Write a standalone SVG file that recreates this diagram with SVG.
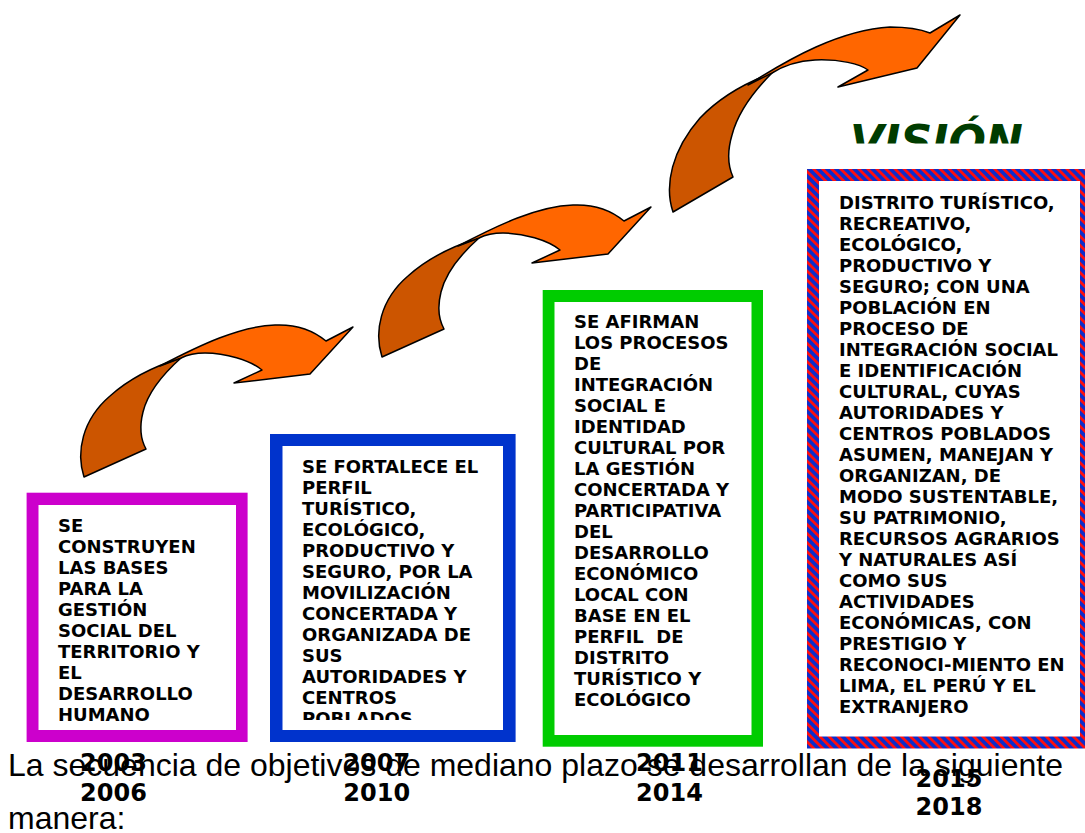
<svg xmlns="http://www.w3.org/2000/svg" width="1085" height="833" viewBox="0 0 1085 833">
<style>
.bt{font-family:"DejaVu Sans","Verdana",sans-serif;font-weight:bold;font-size:18px;fill:#000;white-space:pre}
.yr{font-family:"DejaVu Sans","Verdana",sans-serif;font-weight:bold;font-size:24px;fill:#000;text-anchor:middle}
.body{font-family:"Liberation Sans",Arial,sans-serif;font-size:32px;fill:#000}
.lt{fill:#FF6600;stroke:#000;stroke-width:1.5;stroke-linejoin:round}
.dk{fill:#CC5500;stroke:#000;stroke-width:1.5;stroke-linejoin:round}
</style>
<defs>
<pattern id="stripe" patternUnits="userSpaceOnUse" width="6.4" height="10" patternTransform="rotate(-45)">
<rect width="6.4" height="10" fill="#0a2ecc"/>
<rect width="2.8" height="10" fill="#ff0d0d"/>
</pattern>
<clipPath id="clip2"><rect x="282" y="446" width="221" height="274"/></clipPath>
<clipPath id="clipV"><rect x="830" y="100" width="255" height="43.5"/></clipPath>
<g id="arrowShape">
<path class="dk" d="M84,477 C76,452 82,420 110,396 C130,378 155,366 181,358 C163,374 148,392 143,412 C139,428 141,440 146,449 Z"/>
<path class="lt" d="M160,366 C200,345 240,326 275,325 C297,324 314,331 326,341 L353,327 L310,374 L234,383 L262,370 C250,360 225,353 205,353 C195,353 187,355 181,358 Z"/>
</g>
</defs>
<rect width="1085" height="833" fill="#fff"/>

<g id="connectors">
<use href="#arrowShape"/>
<use href="#arrowShape" transform="translate(298,-120)"/>
<g id="arrow3">
<path class="dk" d="M673,212 C664,185 672,150 700,118 C720,97 745,83 772,73 C755,90 738,112 732,135 C727,152 728,166 733,177 Z"/>
<path class="lt" d="M748,85 C790,58 840,30 890,27 C905,27 920,29 930,33 L960,15 L917,68 L838,87 L868,70 C860,64 840,59 815,60 C797,61 783,66 772,73 Z"/>
</g>
</g>

<g id="vision" clip-path="url(#clipV)">
<text x="850" y="157" font-family="DejaVu Sans, Verdana, sans-serif" font-weight="bold" font-style="italic" font-size="44" fill="#003C00">VISIÓN</text>
</g>

<g id="box1">
<rect x="26.6" y="492.7" width="221" height="249.3" fill="#CC00CC"/>
<rect x="38.5" y="505" width="197.5" height="225" fill="#fff"/>
<text class="bt" x="58" y="532"><tspan x="58">SE</tspan><tspan x="58" dy="21">CONSTRUYEN</tspan><tspan x="58" dy="21">LAS BASES</tspan><tspan x="58" dy="21">PARA LA</tspan><tspan x="58" dy="21">GESTIÓN</tspan><tspan x="58" dy="21">SOCIAL DEL</tspan><tspan x="58" dy="21">TERRITORIO Y</tspan><tspan x="58" dy="21">EL</tspan><tspan x="58" dy="21">DESARROLLO</tspan><tspan x="58" dy="21">HUMANO</tspan></text>
</g>

<g id="box2">
<rect x="270" y="434" width="245.6" height="308" fill="#0033CC"/>
<rect x="282.5" y="446" width="220.5" height="284" fill="#fff"/>
<text class="bt" x="302" y="473" clip-path="url(#clip2)"><tspan x="302">SE FORTALECE EL</tspan><tspan x="302" dy="21">PERFIL</tspan><tspan x="302" dy="21">TURÍSTICO,</tspan><tspan x="302" dy="21">ECOLÓGICO,</tspan><tspan x="302" dy="21">PRODUCTIVO Y</tspan><tspan x="302" dy="21">SEGURO, POR LA</tspan><tspan x="302" dy="21">MOVILIZACIÓN</tspan><tspan x="302" dy="21">CONCERTADA Y</tspan><tspan x="302" dy="21">ORGANIZADA DE</tspan><tspan x="302" dy="21">SUS</tspan><tspan x="302" dy="21">AUTORIDADES Y</tspan><tspan x="302" dy="21">CENTROS</tspan><tspan x="302" dy="21">POBLADOS</tspan></text>
</g>

<g id="box3">
<rect x="542.7" y="290" width="220.3" height="456.7" fill="#00CC00"/>
<rect x="554.5" y="302" width="197" height="433" fill="#fff"/>
<text class="bt" x="574" y="328"><tspan x="574">SE AFIRMAN</tspan><tspan x="574" dy="21">LOS PROCESOS</tspan><tspan x="574" dy="21">DE</tspan><tspan x="574" dy="21">INTEGRACIÓN</tspan><tspan x="574" dy="21">SOCIAL E</tspan><tspan x="574" dy="21">IDENTIDAD</tspan><tspan x="574" dy="21">CULTURAL POR</tspan><tspan x="574" dy="21">LA GESTIÓN</tspan><tspan x="574" dy="21">CONCERTADA Y</tspan><tspan x="574" dy="21">PARTICIPATIVA</tspan><tspan x="574" dy="21">DEL</tspan><tspan x="574" dy="21">DESARROLLO</tspan><tspan x="574" dy="21">ECONÓMICO</tspan><tspan x="574" dy="21">LOCAL CON</tspan><tspan x="574" dy="21">BASE EN EL</tspan><tspan x="574" dy="21">PERFIL  DE</tspan><tspan x="574" dy="21">DISTRITO</tspan><tspan x="574" dy="21">TURÍSTICO Y</tspan><tspan x="574" dy="21">ECOLÓGICO</tspan></text>
</g>

<g id="box4">
<rect x="807" y="169" width="290" height="579.5" fill="url(#stripe)"/>
<rect x="819" y="181" width="261" height="555.5" fill="#fff"/>
<text class="bt" x="839" y="209"><tspan x="839">DISTRITO TURÍSTICO,</tspan><tspan x="839" dy="21">RECREATIVO,</tspan><tspan x="839" dy="21">ECOLÓGICO,</tspan><tspan x="839" dy="21">PRODUCTIVO Y</tspan><tspan x="839" dy="21">SEGURO; CON UNA</tspan><tspan x="839" dy="21">POBLACIÓN EN</tspan><tspan x="839" dy="21">PROCESO DE</tspan><tspan x="839" dy="21">INTEGRACIÓN SOCIAL</tspan><tspan x="839" dy="21">E IDENTIFICACIÓN</tspan><tspan x="839" dy="21">CULTURAL, CUYAS</tspan><tspan x="839" dy="21">AUTORIDADES Y</tspan><tspan x="839" dy="21">CENTROS POBLADOS</tspan><tspan x="839" dy="21">ASUMEN, MANEJAN Y</tspan><tspan x="839" dy="21">ORGANIZAN, DE</tspan><tspan x="839" dy="21">MODO SUSTENTABLE,</tspan><tspan x="839" dy="21">SU PATRIMONIO,</tspan><tspan x="839" dy="21">RECURSOS AGRARIOS</tspan><tspan x="839" dy="21">Y NATURALES ASÍ</tspan><tspan x="839" dy="21">COMO SUS</tspan><tspan x="839" dy="21">ACTIVIDADES</tspan><tspan x="839" dy="21">ECONÓMICAS, CON</tspan><tspan x="839" dy="21">PRESTIGIO Y</tspan><tspan x="839" dy="21">RECONOCI-MIENTO EN</tspan><tspan x="839" dy="21">LIMA, EL PERÚ Y EL</tspan><tspan x="839" dy="21">EXTRANJERO</tspan></text>
</g>

<g id="caption">
<text class="body" x="8" y="776">La secuencia de objetivos de mediano plazo se desarrollan de la siguiente</text>
<text class="body" x="8" y="829">manera:</text>
</g>

<g id="years">
<text class="yr" x="113.5" y="771">2003</text>
<text class="yr" x="113.5" y="801">2006</text>
<text class="yr" x="376.7" y="771">2007</text>
<text class="yr" x="376.7" y="801">2010</text>
<text class="yr" x="669.5" y="771">2011</text>
<text class="yr" x="669.5" y="801">2014</text>
<text class="yr" x="949" y="787">2015</text>
<text class="yr" x="949" y="815">2018</text>
</g>
</svg>
